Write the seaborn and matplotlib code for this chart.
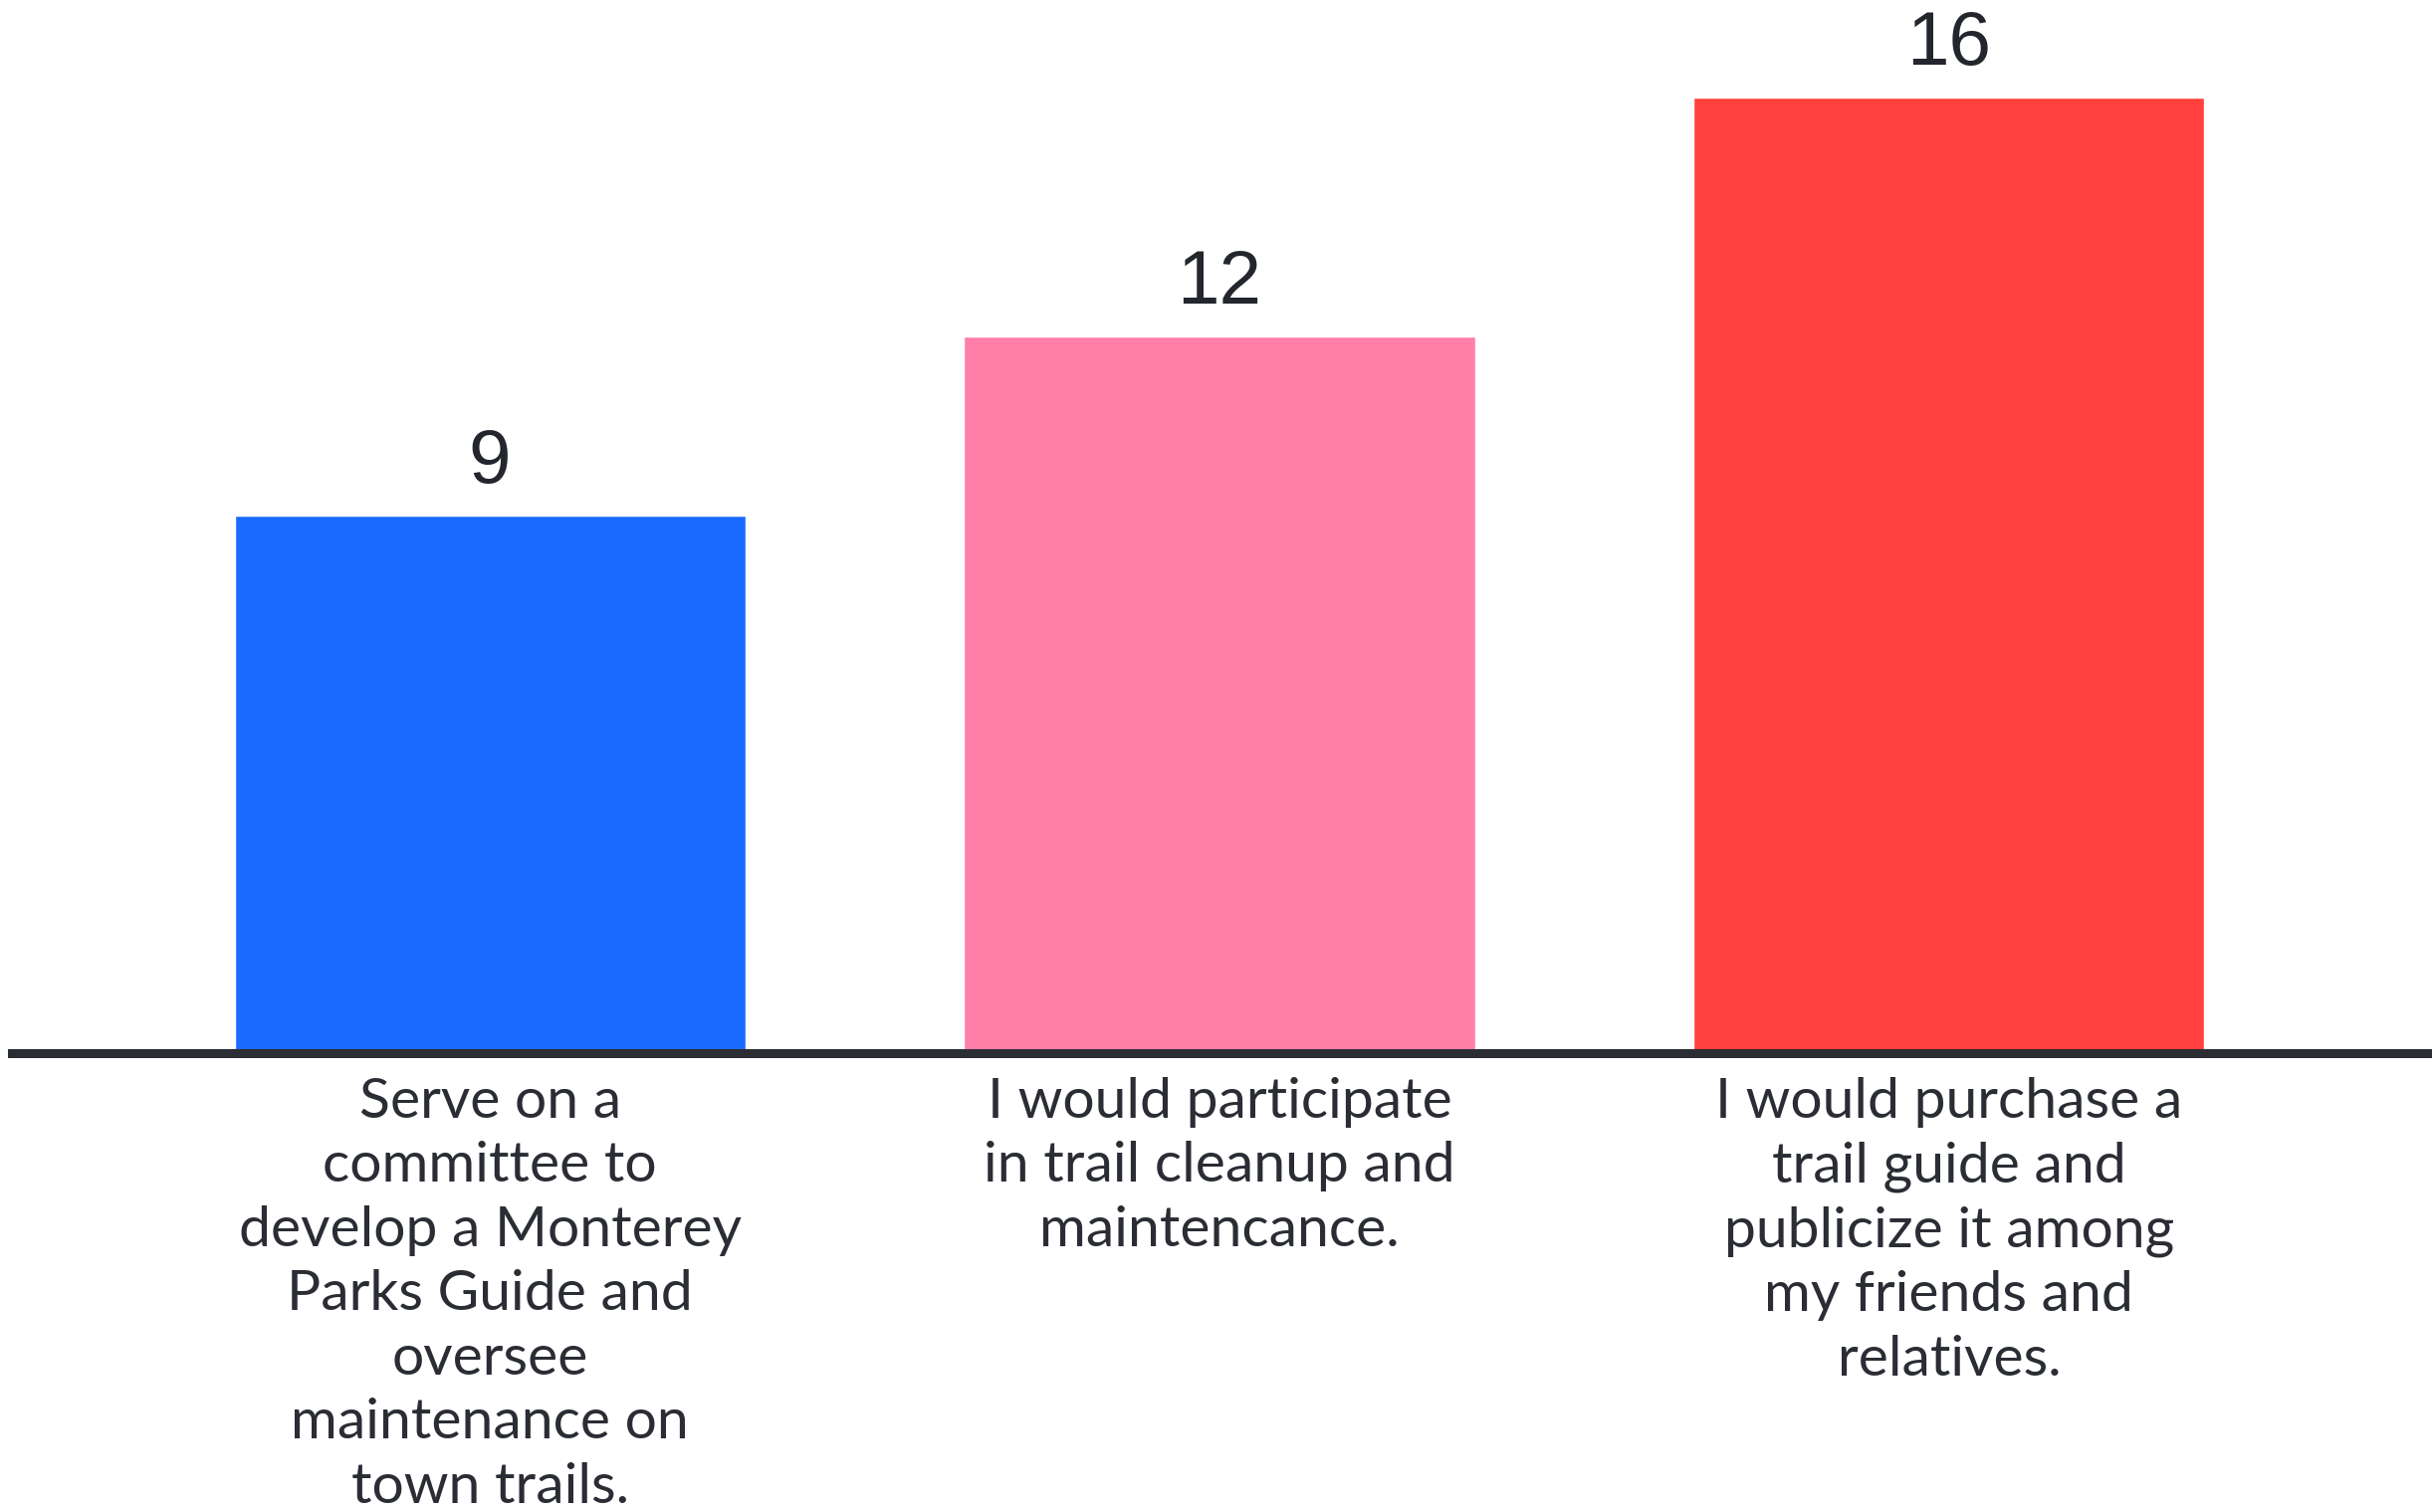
import matplotlib
matplotlib.use("Agg")
import matplotlib.pyplot as plt
import seaborn as sns
import pandas as pd

categories = [
    "Serve on a\ncommittee to\ndevelop a Monterey\nParks Guide and\noversee\nmaintenance on\ntown trails.",
    "I would participate\nin trail cleanup and\nmaintencance.",
    "I would purchase a\ntrail guide and\npublicize it among\nmy friends and\nrelatives.",
]
values = [9, 12, 16]
colors = ["#1A6AFF", "#FF7FA8", "#FF403D"]

sns.set_theme(style="white")
plt.rcParams['font.family'] = ['Lato', 'DejaVu Sans']

W, H = 2443, 1519
fig = plt.figure(figsize=(W / 100, H / 100), dpi=100)
ax = fig.add_axes([12 / W, (H - 1058) / H, (2438 - 12) / W, 1058 / H])

df = pd.DataFrame({"cat": categories, "val": values})
sns.barplot(data=df, x="cat", y="val", hue="cat", palette=colors,
            width=0.70, legend=False, ax=ax, saturation=1)

ax.set_xlim(-0.655, 2.655)
ax.set_ylim(0, 17.63)
for s in ["top", "right", "left"]:
    ax.spines[s].set_visible(False)
ax.spines["bottom"].set_linewidth(6.5)
ax.spines["bottom"].set_color("#2b2d35")
ax.spines["bottom"].set_zorder(5)
ax.set_yticks([])
ax.set_xlabel("")
ax.set_ylabel("")
ax.tick_params(axis="x", length=0, pad=17, labelsize=41, labelcolor="#2b2d35")
for lbl in ax.get_xticklabels():
    lbl.set_linespacing(1.33)

for i, v in enumerate(values):
    ax.annotate(str(v), (i, v), xytext=(0, 12), textcoords="offset points",
                ha="center", va="bottom", fontsize=55, color="#23262d",
                family=["Liberation Sans", "DejaVu Sans"], annotation_clip=False)

fig.savefig("out.png", dpi=100, facecolor="white")
